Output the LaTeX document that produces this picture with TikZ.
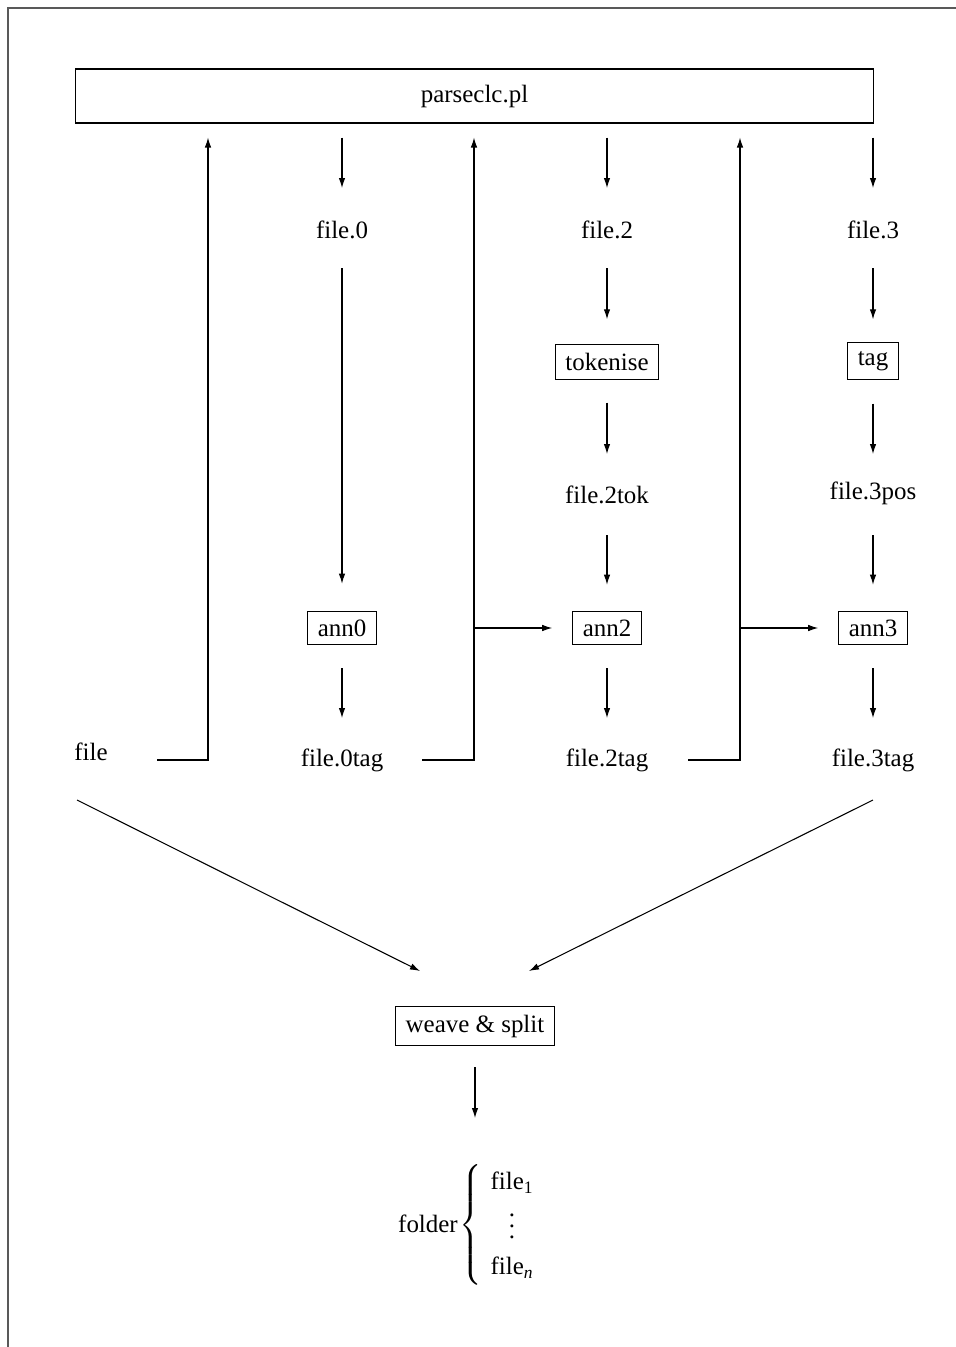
\documentclass[tikz,border=0pt]{standalone}
\usepackage{amsmath}
\usepackage{fontspec}
\setmainfont{Liberation Serif}
\usetikzlibrary{arrows.meta}
\begin{document}
\begin{tikzpicture}[x=0.02cm,y=-0.02cm,
  font=\fontsize{14.2}{17}\selectfont,
  box/.style={draw,line width=0.6pt,inner xsep=5.7pt,inner ysep=4.8pt},
  lbl/.style={inner sep=0pt},
  arr/.style={line width=0.6pt,-{Latex[length=2mm,width=1.3mm]}},
  frame/.style={line width=0.8pt,black!65}]
\useasboundingbox (0,0) rectangle (956,1347);
\draw[frame] (956,8) -- (8,8) -- (8,1347);

\node[draw,line width=0.6pt,minimum width=15.98cm,minimum height=1.08cm,inner sep=0pt] (parse) at (474.5,96) {parseclc.pl};
\node[lbl] (f0) at (342,230) {file.0};
\node[lbl] (f2) at (607,230) {file.2};
\node[lbl] (f3) at (873,230) {file.3};
\node[box] (tok) at (607,362) {tokenise};
\node[box] (tag) at (873,361) {tag};
\node[lbl] (f2tok) at (607,495) {file.2tok};
\node[lbl] (f3pos) at (873,493) {file.3pos};
\node[box] (ann0) at (342,628) {ann0};
\node[box] (ann2) at (607,628) {ann2};
\node[box] (ann3) at (873,628) {ann3};
\node[lbl] (file) at (91,752) {file};
\node[lbl] (f0tag) at (342,760) {file.0tag};
\node[lbl] (f2tag) at (607,760) {file.2tag};
\node[lbl] (f3tag) at (873,760) {file.3tag};
\node[box] (ws) at (475,1026) {weave \& split};
\node[lbl] (folder) at (428,1224) {folder};
\node[inner sep=0pt] (br) at (472,1225) {$\left\{\rule[-1.05cm]{0pt}{2.1cm}\right.$};
\node[lbl] (fl1) at (512,1183) {file$_{\text{1}}$};
\node[lbl] (vd) at (512,1226) {\vbox{\baselineskip=6.3pt\lineskiplimit=0pt\hbox{.}\hbox{.}\hbox{.}}};
\node[lbl] (fln) at (512,1268) {file$_{\textit{n}}$};

\foreach \n in {f0,f2,f3}
  \draw[arr,shorten <=0.28cm,shorten >=0.84cm] (parse.south -| \n) -- (\n.center);
\draw[arr,shorten <=0.76cm,shorten >=0.54cm] (f0.center) -- (ann0.north);
\draw[arr,shorten <=0.76cm,shorten >=0.5cm] (f2.center) -- (tok.north);
\draw[arr,shorten <=0.76cm,shorten >=0.46cm] (f3.center) -- (tag.north);
\draw[arr,shorten <=0.46cm,shorten >=0.82cm] (tok.south) -- (f2tok.center);
\draw[arr,shorten <=0.48cm,shorten >=0.78cm] (tag.south) -- (f3pos.center);
\draw[arr,shorten <=0.8cm,shorten >=0.52cm] (f2tok.center) -- (ann2.north);
\draw[arr,shorten <=0.84cm,shorten >=0.52cm] (f3pos.center) -- (ann3.north);
\foreach \a/\b in {ann0/f0tag,ann2/f2tag,ann3/f3tag}
  \draw[arr,shorten <=0.46cm,shorten >=0.84cm] (\a.south) -- (\b.center);

\coordinate (s1) at (157,760); \coordinate (k1) at (208,760);
\coordinate (s2) at (422,760); \coordinate (k2) at (474,760);
\coordinate (s3) at (688,760); \coordinate (k3) at (740,760);
\foreach \s/\k in {s1/k1,s2/k2,s3/k3}
  \draw[arr,shorten >=0.28cm] (\s) -- (\k) -- (\k |- parse.south);
\draw[arr,shorten >=0.4cm] (k2 |- ann2) -- (ann2.west);
\draw[arr,shorten >=0.4cm] (k3 |- ann3) -- (ann3.west);

\coordinate (d1) at (77,800); \coordinate (d2) at (873,800);
\coordinate (e1) at (420,971); \coordinate (e2) at (529,971);
\draw[arr] (d1) -- (e1);
\draw[arr] (d2) -- (e2);
\coordinate (e3) at (475,1118);
\draw[arr,shorten <=0.42cm] (ws.south) -- (e3);
\end{tikzpicture}
\end{document}
